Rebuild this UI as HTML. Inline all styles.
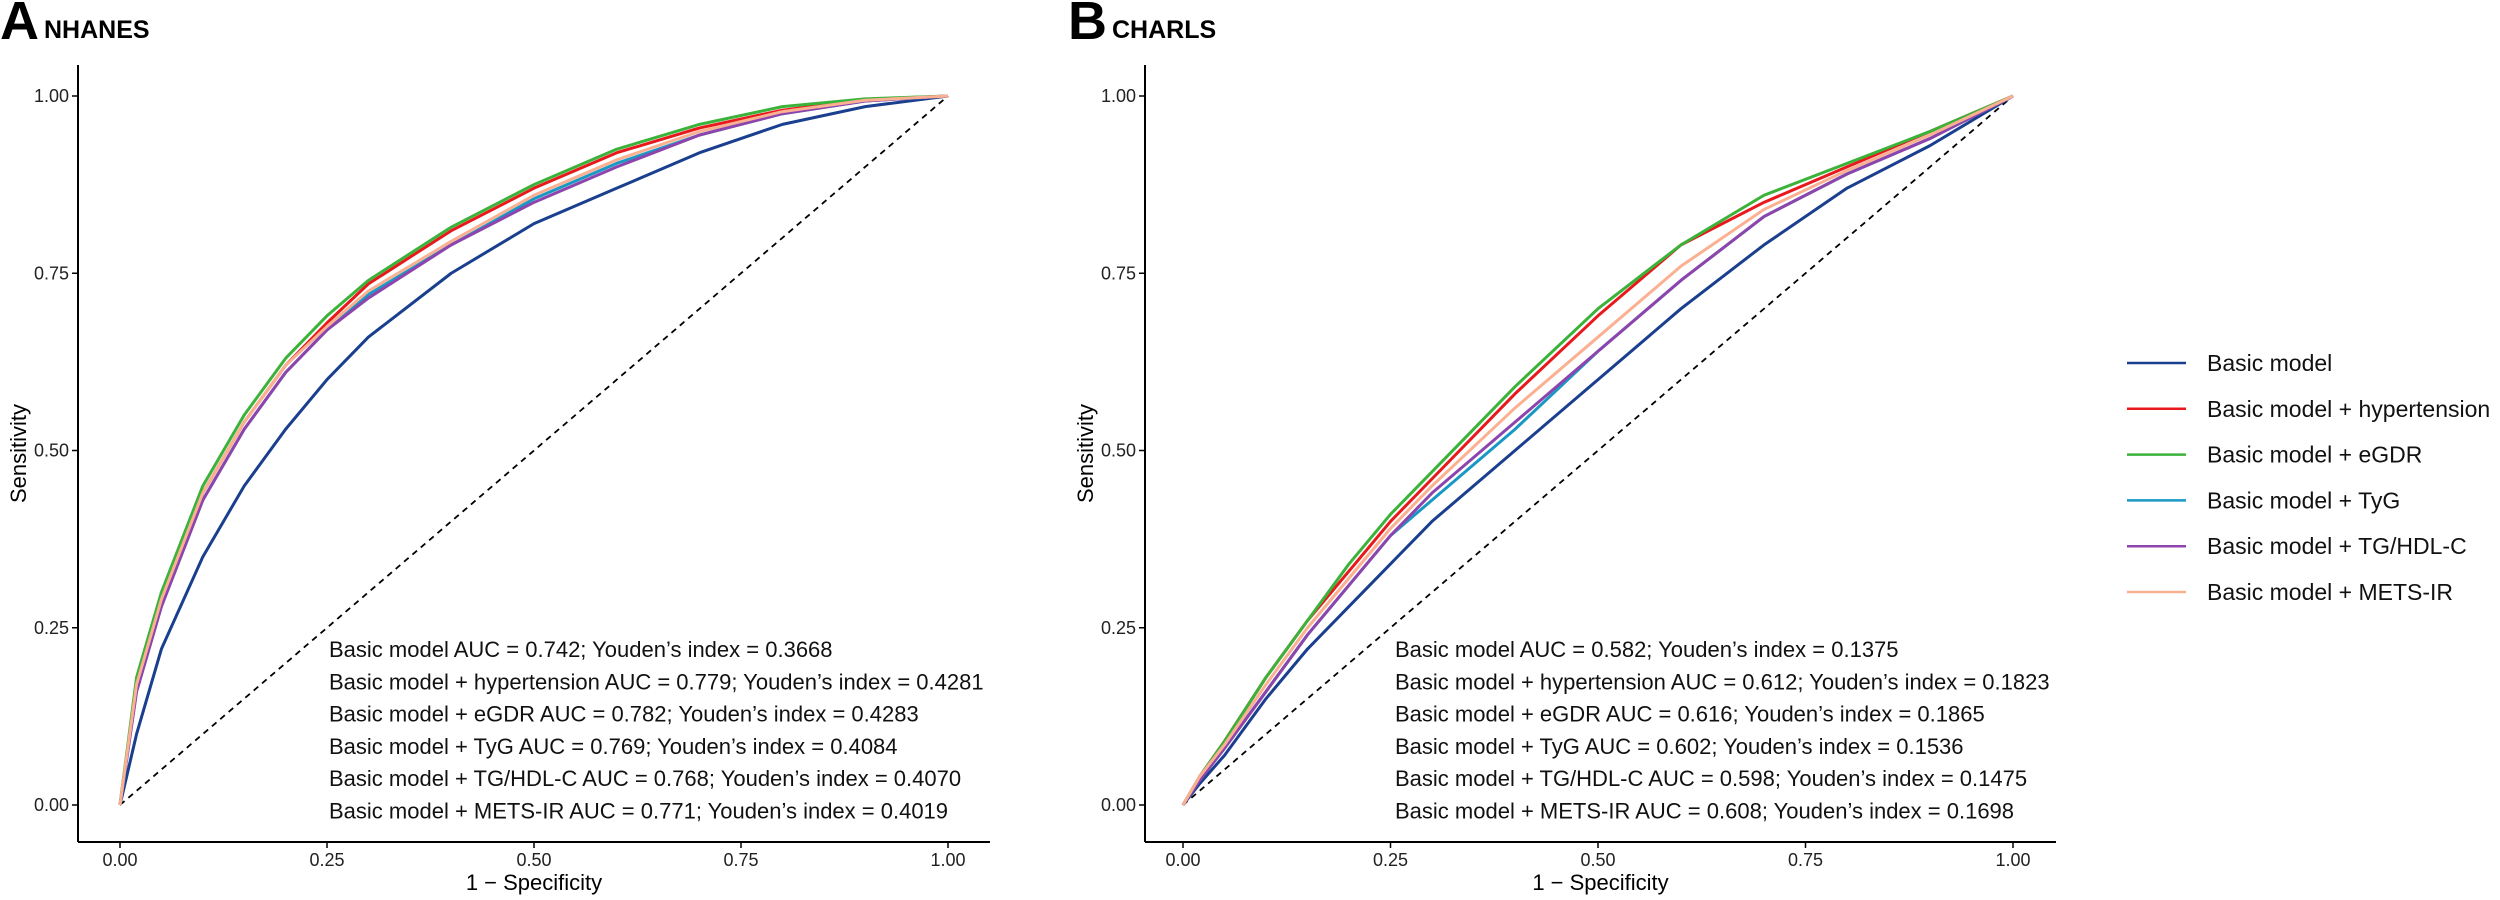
<!DOCTYPE html>
<html><head><meta charset="utf-8"><style>
body{margin:0;background:#fff;}
svg{display:block;font-family:"Liberation Sans",Arial,sans-serif;}
</style></head><body>
<svg id="chart" width="2500" height="900" viewBox="0 0 2500 900"></svg>
<script>
const seriesNames=["Basic model","Basic model + hypertension","Basic model + eGDR","Basic model + TyG","Basic model + TG/HDL-C","Basic model + METS-IR"];
const seriesColors=["#1a3f8f","#e8191c","#3bb23a","#1a98c4","#8e44ad","#fbb091"];
const fprGrid=[0,0.02,0.05,0.1,0.15,0.2,0.25,0.3,0.4,0.5,0.6,0.7,0.8,0.9,1];
const nhanesBasic=[0,0.10,0.22,0.35,0.45,0.53,0.60,0.66,0.75,0.82,0.87,0.92,0.96,0.985,1];
const nhanesHyp=[0,0.17,0.29,0.44,0.54,0.62,0.68,0.735,0.81,0.87,0.92,0.955,0.98,0.995,1];
const nhanesEgdr=[0,0.18,0.30,0.45,0.55,0.63,0.69,0.74,0.815,0.875,0.925,0.96,0.985,0.996,1];
const nhanesTyg=[0,0.16,0.28,0.43,0.53,0.61,0.67,0.72,0.79,0.855,0.905,0.945,0.975,0.993,1];
const nhanesTgHdl=[0,0.16,0.28,0.43,0.53,0.61,0.67,0.715,0.79,0.85,0.90,0.945,0.975,0.993,1];
const nhanesMets=[0,0.17,0.29,0.44,0.54,0.62,0.675,0.725,0.795,0.86,0.91,0.95,0.978,0.994,1];
const charlsBasic=[0,0.03,0.07,0.15,0.22,0.28,0.34,0.40,0.50,0.60,0.70,0.79,0.87,0.93,1];
const charlsHyp=[0,0.04,0.09,0.18,0.26,0.33,0.40,0.46,0.58,0.69,0.79,0.85,0.90,0.95,1];
const charlsEgdr=[0,0.04,0.09,0.18,0.26,0.34,0.41,0.47,0.59,0.70,0.79,0.86,0.905,0.95,1];
const charlsTyg=[0,0.035,0.08,0.16,0.24,0.31,0.38,0.43,0.53,0.64,0.74,0.83,0.89,0.94,1];
const charlsTgHdl=[0,0.035,0.08,0.16,0.24,0.31,0.38,0.44,0.54,0.64,0.74,0.83,0.89,0.94,1];
const charlsMets=[0,0.04,0.085,0.17,0.25,0.32,0.39,0.45,0.56,0.66,0.76,0.84,0.895,0.945,1];
const xTicks=[0,0.25,0.5,0.75,1];
const xTickLabels=["0.00","0.25","0.50","0.75","1.00"];
const yTicks=[0,0.25,0.5,0.75,1];
const yTickLabels=["0.00","0.25","0.50","0.75","1.00"];
const nhanesLabels=["Basic model AUC = 0.742; Youden’s index = 0.3668","Basic model + hypertension AUC = 0.779; Youden’s index = 0.4281","Basic model + eGDR AUC = 0.782; Youden’s index = 0.4283","Basic model + TyG AUC = 0.769; Youden’s index = 0.4084","Basic model + TG/HDL-C AUC = 0.768; Youden’s index = 0.4070","Basic model + METS-IR AUC = 0.771; Youden’s index = 0.4019"];
const charlsLabels=["Basic model AUC = 0.582; Youden’s index = 0.1375","Basic model + hypertension AUC = 0.612; Youden’s index = 0.1823","Basic model + eGDR AUC = 0.616; Youden’s index = 0.1865","Basic model + TyG AUC = 0.602; Youden’s index = 0.1536","Basic model + TG/HDL-C AUC = 0.598; Youden’s index = 0.1475","Basic model + METS-IR AUC = 0.608; Youden’s index = 0.1698"];

const NS="http://www.w3.org/2000/svg";
const svg=document.getElementById("chart");
function mk(tag,attrs,parent,text){const e=document.createElementNS(NS,tag);for(const k in attrs)e.setAttribute(k,attrs[k]);if(text!==undefined)e.textContent=text;(parent||svg).appendChild(e);return e;}

function panel(cfg){
  const g=mk("g",{});
  
  
  const sx=v=>cfg.x0+v*(cfg.x1-cfg.x0);
  const sy=v=>cfg.y0+v*(cfg.y1-cfg.y0);
  const t1=mk("text",{x:cfg.tx,y:39,"font-size":54,"font-weight":"bold"},g,cfg.letter);
  
  const t2=mk("text",{x:cfg.tx+44,y:38,"font-size":25,"font-weight":"bold"},g,cfg.title);
  
  const d=mk("line",{x1:sx(0),y1:sy(0),x2:sx(1),y2:sy(1),stroke:"#000","stroke-width":1.8,"stroke-dasharray":"6,5"},g);
  
  cfg.data.forEach((vals,i)=>{
    const pts=fprGrid.map((f,j)=>sx(f)+","+sy(vals[j])).join(" ");
    const p=mk("polyline",{points:pts,fill:"none",stroke:seriesColors[i],"stroke-width":3,"stroke-linejoin":"round"},g);
    
    
  });
  const ax=mk("line",{x1:cfg.ax,y1:cfg.ab,x2:cfg.ar,y2:cfg.ab,stroke:"#000","stroke-width":2},g);
  
  const ay=mk("line",{x1:cfg.ax,y1:cfg.at,x2:cfg.ax,y2:cfg.ab,stroke:"#000","stroke-width":2},g);
  
  xTicks.forEach((v,i)=>{
    mk("line",{x1:sx(v),y1:cfg.ab,x2:sx(v),y2:cfg.ab+6,stroke:"#000","stroke-width":1.5},g);
    const tl=mk("text",{x:sx(v),y:cfg.ab+24,"font-size":18,"text-anchor":"middle",fill:"#222"},g,xTickLabels[i]);
    
  });
  yTicks.forEach((v,i)=>{
    mk("line",{x1:cfg.ax-6,y1:sy(v),x2:cfg.ax,y2:sy(v),stroke:"#000","stroke-width":1.5},g);
    const tl=mk("text",{x:cfg.ax-9,y:sy(v)+6,"font-size":18,"text-anchor":"end",fill:"#222"},g,yTickLabels[i]);
    
  });
  const xt=mk("text",{x:(cfg.ax+cfg.ar)/2,y:890,"font-size":22,"text-anchor":"middle"},g,"1 − Specificity");
  
  const yt=mk("text",{x:0,y:0,"font-size":22,"text-anchor":"middle",transform:`translate(${cfg.ax-52},${(cfg.at+cfg.ab)/2}) rotate(-90)`},g,"Sensitivity");
  
  cfg.labels.forEach((s,i)=>{
    const a=mk("text",{x:cfg.lx,y:657+i*32.3,"font-size":22,fill:"#111"},g,s);
    
  });
}
panel({name:"panel-nhanes",letter:"A",title:"NHANES",tx:0,x0:120,x1:948,y0:805,y1:96,ax:78,ar:990,at:65,ab:842,lx:329,
  data:[nhanesBasic,nhanesHyp,nhanesEgdr,nhanesTyg,nhanesTgHdl,nhanesMets],labels:nhanesLabels});
panel({name:"panel-charls",letter:"B",title:"CHARLS",tx:1068,x0:1183,x1:2013,y0:805,y1:96,ax:1145,ar:2056,at:65,ab:842,lx:1395,
  data:[charlsBasic,charlsHyp,charlsEgdr,charlsTyg,charlsTgHdl,charlsMets],labels:charlsLabels});
const lg=mk("g",{});


seriesNames.forEach((n,i)=>{
  const y=363+i*45.8;
  const l=mk("line",{x1:2127,y1:y,x2:2186,y2:y,stroke:seriesColors[i],"stroke-width":2.5},lg);
  
  const t=mk("text",{x:2207,y:y+8,"font-size":23,fill:"#111"},lg,n);
  
});
</script>
</body></html>
